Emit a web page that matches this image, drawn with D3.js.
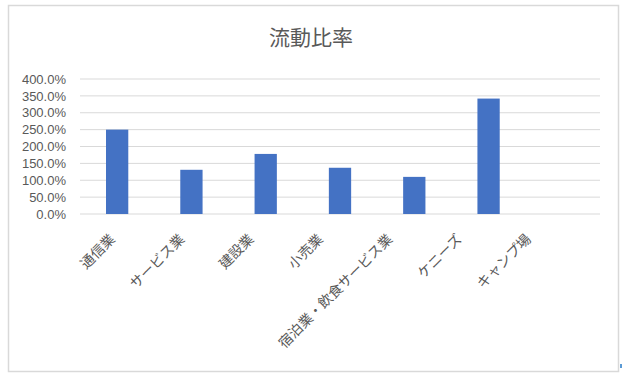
<!DOCTYPE html>
<html><head><meta charset="utf-8">
<script src="https://cdn.jsdelivr.net/npm/d3@7"></script>
<style>html,body{margin:0;padding:0;background:#fff;}</style>
</head><body>
<svg id="c" width="622" height="379"></svg>
<script>
const categories = ["通信業","サービス業","建設業","小売業","宿泊業・飲食サービス業","ケニーズ","キャンプ場"];
const values = [2.50, 1.31, 1.78, 1.37, 1.10, 3.42, 0];
const yTicks = [0,0.5,1,1.5,2,2.5,3,3.5,4];
const title = "流動比率";

const svg = d3.select("#c");
const font = "'Noto Sans CJK JP','Noto Sans',sans-serif";
const numFont = "'Liberation Sans',Arial,sans-serif";
const grey = "#595959";

svg.append("rect").attr("x",8.5).attr("y",5.5).attr("width",610).attr("height",366)
  .attr("fill","#fff").attr("stroke","#d9d9d9").attr("stroke-width",1.5);
svg.append("rect").attr("x",620).attr("y",364).attr("width",2).attr("height",4).attr("fill","#5b9bd5");

const x = d3.scaleBand().domain(categories).range([80,600]).paddingInner(0.7).paddingOuter(0.35);
const y = d3.scaleLinear().domain([0,4]).range([214,79]);
const xl = d3.scalePoint().domain(categories).range([116,532]);

svg.append("text").attr("x",311).attr("y",45).attr("text-anchor","middle")
  .attr("font-family",font).attr("font-size",21).attr("fill",grey).text(title);

// gridlines
svg.append("g").selectAll("line").data(yTicks).join("line")
  .attr("x1",80).attr("x2",600).attr("y1",d=>y(d)).attr("y2",d=>y(d))
  .attr("stroke","#d9d9d9").attr("stroke-width",1);

// y axis labels
const yAxis = d3.axisLeft(y).tickValues(yTicks).tickFormat(d=>(d*100).toFixed(1)+"%").tickSize(0).tickPadding(0);
const ga = svg.append("g").attr("transform","translate(66,0)").call(yAxis);
ga.select(".domain").remove();
ga.selectAll("text").attr("font-family",numFont).attr("font-size",13).attr("fill",grey);

// bars
svg.append("g").selectAll("rect").data(values).join("rect")
  .attr("x",(d,i)=>x(categories[i])).attr("width",x.bandwidth())
  .attr("y",d=>y(d)).attr("height",d=>y(0)-y(d))
  .attr("fill","#4472c4");

// category labels
svg.append("g").selectAll("text").data(categories).join("text")
  .attr("transform",d=>`translate(${xl(d)},240) rotate(-45)`)
  .attr("text-anchor","end")
  .attr("font-family",font).attr("font-size",14).attr("fill",grey).text(d=>d);
</script>
</body></html>
